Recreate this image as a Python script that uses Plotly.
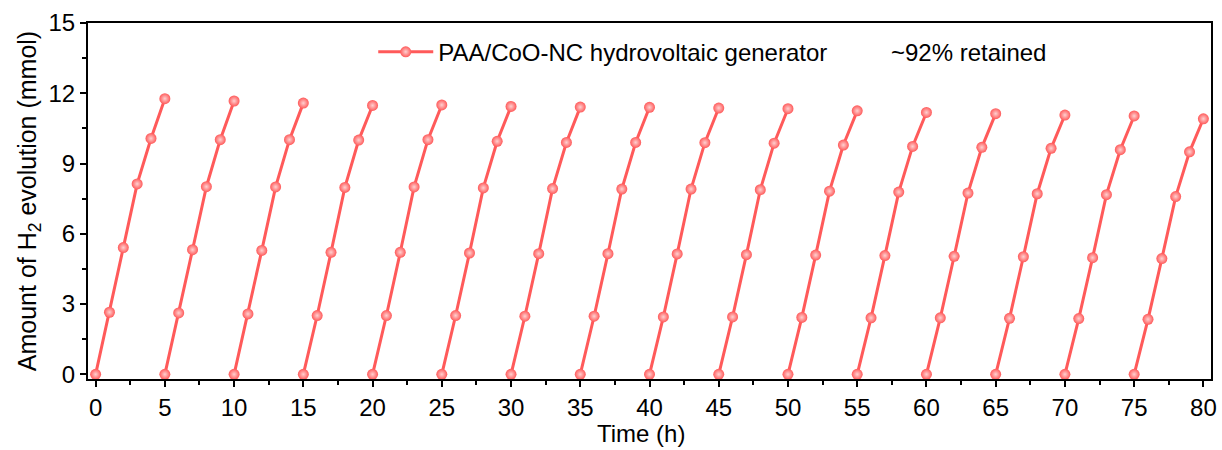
import plotly.graph_objects as go

# ---- data ----
cycle_hours = [0, 1, 2, 3, 4, 5]          # hours within each 5-h cycle
cycle_starts = [0, 5, 10, 15, 20, 25, 30, 35, 40, 45, 50, 55, 60, 65, 70, 75]
h2_cycles = [
    [0, 2.65, 5.41, 8.13, 10.07, 11.77],
    [0, 2.62, 5.32, 8.01, 10.02, 11.67],
    [0, 2.58, 5.29, 8.00, 10.02, 11.58],
    [0, 2.51, 5.21, 7.98, 10.00, 11.48],
    [0, 2.51, 5.21, 8.00, 10.02, 11.50],
    [0, 2.51, 5.18, 7.96, 9.95, 11.44],
    [0, 2.48, 5.15, 7.93, 9.90, 11.41],
    [0, 2.48, 5.15, 7.91, 9.90, 11.40],
    [0, 2.45, 5.14, 7.91, 9.89, 11.37],
    [0, 2.45, 5.11, 7.88, 9.87, 11.34],
    [0, 2.43, 5.09, 7.82, 9.79, 11.25],
    [0, 2.41, 5.07, 7.78, 9.73, 11.18],
    [0, 2.41, 5.04, 7.74, 9.69, 11.13],
    [0, 2.39, 5.02, 7.71, 9.65, 11.07],
    [0, 2.38, 4.98, 7.67, 9.59, 11.03],
    [0, 2.35, 4.94, 7.59, 9.50, 10.91],
]
series_name = "PAA/CoO-NC hydrovoltaic generator"
note_text = "~92% retained"
x_title = "Time (h)"
y_title = "Amount of H<sub>2</sub> evolution (mmol)"
x_ticks = [0, 5, 10, 15, 20, 25, 30, 35, 40, 45, 50, 55, 60, 65, 70, 75, 80]
y_ticks = [0, 3, 6, 9, 12, 15]

# build one trace with gaps between cycles
xs, ys = [], []
for start, vals in zip(cycle_starts, h2_cycles):
    xs += [start + h for h in cycle_hours] + [None]
    ys += list(vals) + [None]

RED = "#FF5A5A"
FONT = "Liberation Sans, Arial, sans-serif"
FS = 24

fig = go.Figure()
fig.add_trace(go.Scatter(
    x=xs, y=ys, mode="lines+markers", name=series_name,
    connectgaps=False,
    line=dict(color=RED, width=3),
    marker=dict(symbol="circle", size=11, color=RED,
                gradient=dict(type="radial", color="#FFD0D0"),
                line=dict(width=0)),
))

fig.add_annotation(text=note_text, xref="paper", yref="paper",
                   x=0.713, y=0.918, xanchor="left", yanchor="middle",
                   showarrow=False, font=dict(size=FS, color="black", family=FONT))

# x-axis title (placed slightly left of centre as in the reference)
fig.add_annotation(text=x_title, xref="paper", yref="paper",
                   x=0.4925, y=-0.152, xanchor="center", yanchor="middle",
                   showarrow=False, font=dict(size=FS, color="black", family=FONT))

axis_common = dict(
    showline=True, linecolor="black", linewidth=2, mirror=True,
    ticks="outside", tickcolor="black", tickwidth=2, ticklen=6,
    showgrid=False, zeroline=False, automargin=False,
    tickfont=dict(size=FS, color="black", family=FONT),
)

fig.update_xaxes(range=[-0.55, 80.55], tickvals=x_ticks,
                 minor=dict(ticks="outside", dtick=2.5, ticklen=4, tickwidth=2, tickcolor="black"),
                 **axis_common)
fig.update_yaxes(range=[-0.2, 15], tickvals=y_ticks,
                 title=dict(text=y_title,
                            font=dict(size=25, color="black", family=FONT), standoff=5),
                 minor=dict(ticks="outside", dtick=1.5, ticklen=4, tickwidth=2, tickcolor="black"),
                 **axis_common)

fig.update_layout(
    width=1222, height=450,
    margin=dict(l=88, r=11, t=23, b=71),
    plot_bgcolor="white", paper_bgcolor="white",
    font=dict(family=FONT, color="black"),
    showlegend=True,
    legend=dict(x=0.254, y=0.918, xanchor="left", yanchor="middle",
                bgcolor="rgba(0,0,0,0)", itemwidth=55,
                font=dict(size=FS, color="black", family=FONT)),
)

fig.write_html("out.html")
